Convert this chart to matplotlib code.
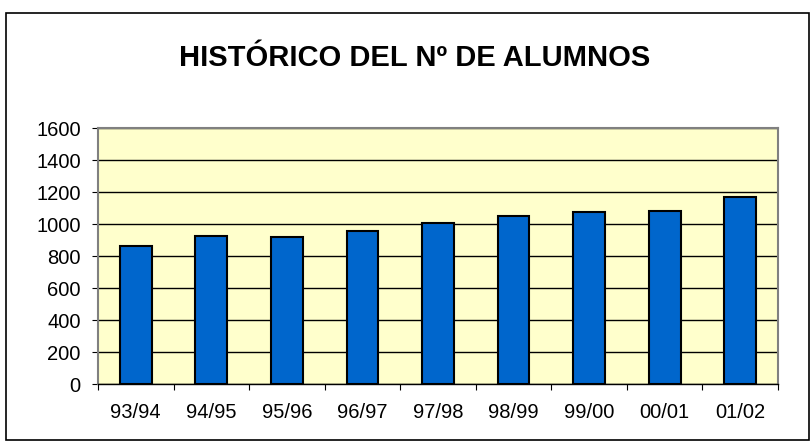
import matplotlib
matplotlib.use("Agg")
import matplotlib.pyplot as plt
from matplotlib.patches import Rectangle

categories = ["93/94", "94/95", "95/96", "96/97", "97/98", "98/99", "99/00", "00/01", "01/02"]
values = [860, 925, 916, 958, 1006, 1047, 1075, 1079, 1166]
yticks = [0, 200, 400, 600, 800, 1000, 1200, 1400, 1600]
title = "HISTÓRICO DEL Nº DE ALUMNOS"

plt.rcParams['font.family'] = ['Liberation Sans', 'DejaVu Sans']

W, H = 811, 446
fig = plt.figure(figsize=(W / 100, H / 100), dpi=100)
fig.patch.set_facecolor("white")

# outer chart border
fig.patches.append(Rectangle((6 / W, 1 - 440 / H), (809 - 6) / W, (440 - 13) / H,
                             transform=fig.transFigure, fill=False,
                             edgecolor="black", linewidth=1.2))

left, right, top, bottom = 98, 778, 128, 384
ax = fig.add_axes([left / W, 1 - bottom / H, (right - left) / W, (bottom - top) / H])
ax.set_facecolor("#FFFFCC")

x = list(range(len(categories)))
ax.bar(x, values, width=0.42, color="#0066CC", edgecolor="black", linewidth=1.5, zorder=3)

ax.set_xlim(-0.5, len(categories) - 0.5)
ax.set_ylim(0, 1600)
ax.set_yticks(yticks)
ax.set_yticklabels([str(v) for v in yticks], fontsize=14.5)
ax.yaxis.grid(True, color="black", linewidth=1, zorder=1)
ax.set_axisbelow(True)

ax.set_xticks([i + 0.5 for i in range(-1, len(categories))])
ax.set_xticklabels([])
ax.set_xticks(x, minor=True)
ax.set_xticklabels(categories, minor=True, fontsize=14.5)
ax.tick_params(axis="x", which="minor", length=0, pad=14)
ax.tick_params(axis="x", which="major", length=4.5, color="black")
ax.tick_params(axis="y", length=4.5, pad=8)

for s in ["top", "right"]:
    ax.spines[s].set_color("#808080")
    ax.spines[s].set_linewidth(1.5)
ax.spines["left"].set_color("#808080")
ax.spines["left"].set_linewidth(1.5)
ax.spines["bottom"].set_color("black")
ax.spines["bottom"].set_linewidth(1)

fig.text(415 / W, 1 - 58 / H, title, ha="center", va="center",
         fontsize=21, fontweight="bold")

fig.savefig("out.png", dpi=100)
